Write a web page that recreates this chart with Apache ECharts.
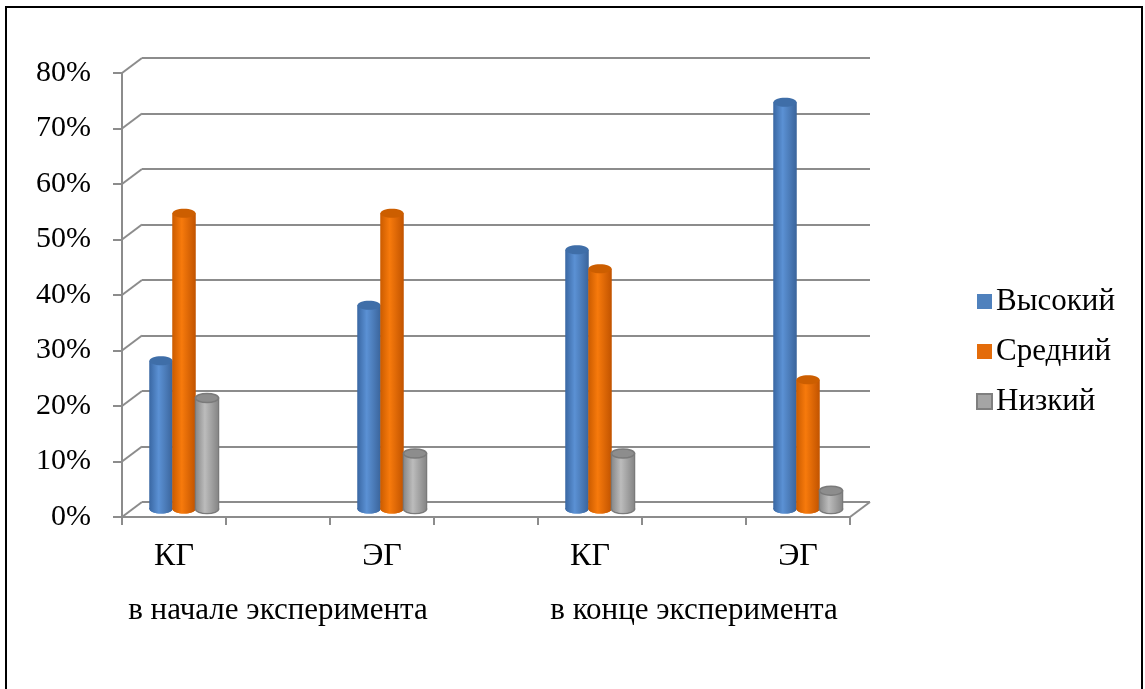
<!DOCTYPE html>
<html>
<head>
<meta charset="utf-8">
<script src="https://cdn.jsdelivr.net/npm/echarts@6/dist/echarts.min.js"></script>
<style>
html,body{margin:0;padding:0;background:#fff;}
#chart{width:1145px;height:689px;}
</style>
</head>
<body>
<div id="chart"></div>
<script>
// ---- data ----
var categories = ['КГ', '', 'ЭГ', '', 'КГ', '', 'ЭГ'];
var groupLabels = ['', 'в начале эксперимента', '', '', '', 'в конце эксперимента', ''];
var seriesNames = ['Высокий', 'Средний', 'Низкий'];
var highValues = [0.267, null, 0.367, null, 0.467, null, 0.733];
var midValues  = [0.533, null, 0.533, null, 0.433, null, 0.233];
var lowValues  = [0.200, null, 0.100, null, 0.100, null, 0.033];
var yTicks = [0, 0.1, 0.2, 0.3, 0.4, 0.5, 0.6, 0.7, 0.8];

// ---- styles ----
var FONT = '"Liberation Serif", "Times New Roman", serif';
var GRID_COLOR = '#8c8c8c';
var DEPTH_X = 20, DEPTH_Y = -15;
var BAR_W = 23, RY = 4.5;
var palettes = [
  {edgeL:'#3a68a4', mid:'#5b91d4', edgeR:'#3b659c', top:'#3f6ea8', stroke:null, legend:'#4f81bd'},
  {edgeL:'#cc5c00', mid:'#f77a0c', edgeR:'#c25400', top:'#cc5e00', stroke:null, legend:'#e46c0a'},
  {edgeL:'#8c8c8c', mid:'#bcbcbc', edgeR:'#888888', top:'#8d8d8d', stroke:'#7a7a7a', legend:'#a5a5a5'}
];

function cylinder(si) {
  var p = palettes[si];
  return function (params, api) {
    var v = api.value(1);
    if (v == null || isNaN(v)) return null;
    var top = api.coord([api.value(0), v]);
    var base = api.coord([api.value(0), 0]);
    var cx = top[0] + (si - 1) * BAR_W;
    var rx = BAR_W / 2;
    var grad = new echarts.graphic.LinearGradient(0, 0, 1, 0, [
      {offset: 0, color: p.edgeL},
      {offset: 0.4, color: p.mid},
      {offset: 1, color: p.edgeR}
    ]);
    var strokeStyle = p.stroke ? {stroke: p.stroke, lineWidth: 1.5} : {};
    return {
      type: 'group',
      children: [
        {type: 'ellipse', shape: {cx: cx, cy: base[1], rx: rx, ry: RY},
         style: Object.assign({fill: grad}, strokeStyle)},
        {type: 'rect', shape: {x: cx - rx, y: top[1], width: BAR_W, height: base[1] - top[1]},
         style: Object.assign({fill: grad}, strokeStyle)},
        {type: 'rect', shape: {x: cx - rx + (p.stroke ? 0.75 : 0), y: top[1], width: BAR_W - (p.stroke ? 1.5 : 0), height: base[1] - top[1]},
         style: {fill: grad}},
        {type: 'ellipse', shape: {cx: cx, cy: base[1], rx: rx - (p.stroke ? 0.75 : 0), ry: RY - (p.stroke ? 0.75 : 0)},
         style: {fill: grad}},
        {type: 'ellipse', shape: {cx: cx, cy: top[1], rx: rx, ry: RY},
         style: Object.assign({fill: p.top}, strokeStyle)}
      ]
    };
  };
}

function toData(arr) {
  return arr.map(function (v, i) { return [i, v == null ? NaN : v]; });
}

var valueSets = [highValues, midValues, lowValues];
var barSeries = seriesNames.map(function (name, si) {
  return {
    name: name,
    type: 'custom',
    xAxisIndex: 2, yAxisIndex: 2,
    color: palettes[si].legend,
    itemStyle: {color: palettes[si].legend},
    renderItem: cylinder(si),
    data: toData(valueSets[si]),
    z: 5,
    silent: true
  };
});

var chart = echarts.init(document.getElementById('chart'), null, {renderer: 'canvas'});
var option = {
  animation: false,
  backgroundColor: '#fff',
  graphic: [{
    type: 'rect', shape: {x: 6, y: 7, width: 1136, height: 720},
    style: {fill: null, stroke: '#000', lineWidth: 2}, z: 100
  }],
  legend: {
    orient: 'vertical',
    left: 971, top: 281,
    itemWidth: 15, itemHeight: 15, itemGap: 19,
    icon: 'rect',
    textStyle: {fontFamily: FONT, fontSize: 31, color: '#000', padding: [0, 0, 0, -1]},
    data: [
      {name: seriesNames[0], itemStyle: {color: palettes[0].legend}},
      {name: seriesNames[1], itemStyle: {color: palettes[1].legend}},
      {name: seriesNames[2], itemStyle: {color: palettes[2].legend, borderColor: '#7f7f7f', borderWidth: 2}}
    ]
  },
  grid: [
    {left: 142, top: 58, width: 728, height: 444},   // back wall
    {left: 122, top: 73, width: 728, height: 444},   // front
    {left: 132, top: 65, width: 728, height: 444}    // bar depth
  ],
  xAxis: [
    {gridIndex: 0, type: 'category', data: categories, show: true,
     axisLine: {show: false}, axisTick: {show: false}, axisLabel: {show: false}, splitLine: {show: false}},
    {gridIndex: 1, type: 'category', data: categories, boundaryGap: true,
     axisLine: {show: true, lineStyle: {color: GRID_COLOR, width: 2}},
     axisTick: {show: true, interval: 0, length: 8, lineStyle: {color: GRID_COLOR, width: 2}},
     axisLabel: {interval: 0, margin: 24, fontFamily: FONT, fontSize: 32, color: '#000'}},
    {gridIndex: 2, type: 'category', data: categories, show: false},
    {gridIndex: 1, type: 'category', data: groupLabels, position: 'bottom', offset: 55,
     axisLine: {show: false}, axisTick: {show: false},
     axisLabel: {interval: 0, margin: 23, fontFamily: FONT, fontSize: 31, color: '#000'}}
  ],
  yAxis: [
    {gridIndex: 0, type: 'value', min: 0, max: 0.8, interval: 0.1,
     axisLine: {show: false}, axisTick: {show: false}, axisLabel: {show: false},
     splitLine: {show: true, lineStyle: {color: GRID_COLOR, width: 2}}},
    {gridIndex: 1, type: 'value', min: 0, max: 0.8, interval: 0.1,
     axisLine: {show: true, lineStyle: {color: GRID_COLOR, width: 2}},
     axisTick: {show: true, length: 9, lineStyle: {color: GRID_COLOR, width: 2}},
     splitLine: {show: false},
     axisLabel: {margin: 31, fontFamily: FONT, fontSize: 30, color: '#000',
       formatter: function (v) { return Math.round(v * 100) + '%'; }}},
    {gridIndex: 2, type: 'value', min: 0, max: 0.8, interval: 0.1, show: false}
  ],
  series: barSeries.concat([
    {
      type: 'custom', xAxisIndex: 1, yAxisIndex: 1, silent: true, z: 1,
      data: yTicks.map(function (t) { return [0, t]; }),
      renderItem: function (params, api) {
        var cs = params.coordSys;
        var y = api.coord([0, api.value(1)])[1];
        var children = [{
          type: 'line',
          shape: {x1: cs.x, y1: y, x2: cs.x + DEPTH_X, y2: y + DEPTH_Y},
          style: {stroke: GRID_COLOR, lineWidth: 2}
        }];
        if (api.value(1) === 0) {
          children.push({
            type: 'line',
            shape: {x1: cs.x + cs.width, y1: y, x2: cs.x + cs.width + DEPTH_X, y2: y + DEPTH_Y},
            style: {stroke: GRID_COLOR, lineWidth: 2}
          });
        }
        return {type: 'group', children: children};
      }
    }
  ])
};
chart.setOption(option);
</script>
</body>
</html>
